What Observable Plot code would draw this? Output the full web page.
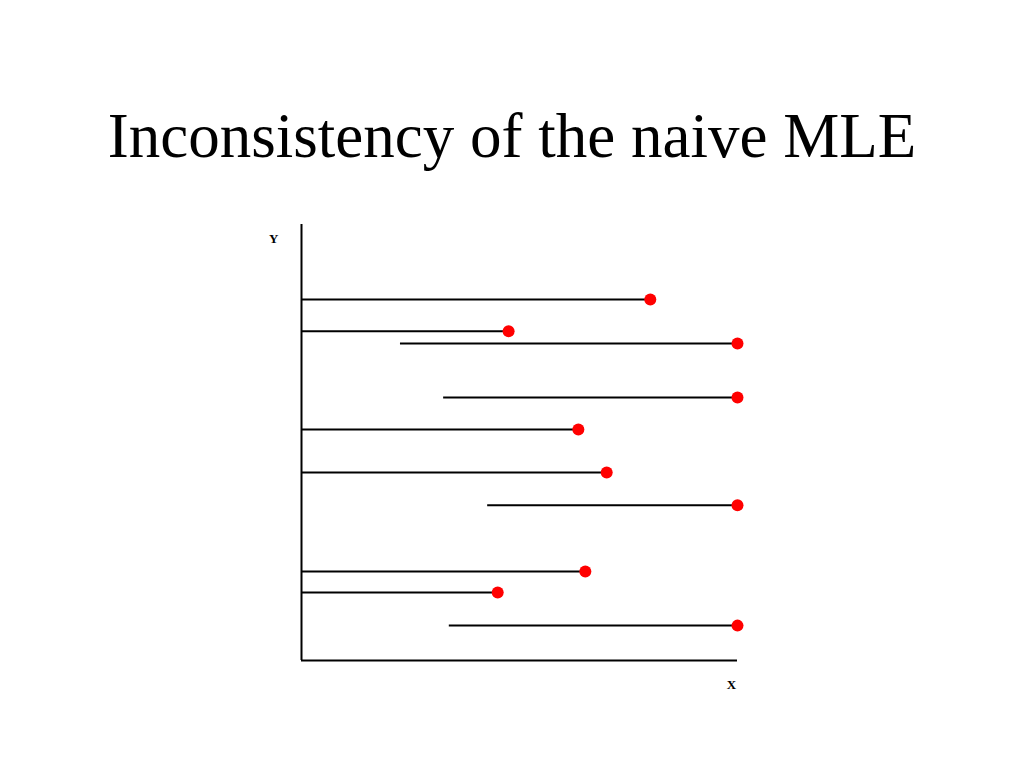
<!DOCTYPE html>
<html>
<head>
<meta charset="utf-8">
<script src="https://cdn.jsdelivr.net/npm/d3@7"></script>
<script src="https://cdn.jsdelivr.net/npm/@observablehq/plot@0.6"></script>
<style>
  html, body { margin: 0; padding: 0; background: #fff; }
  #wrap { position: relative; width: 1024px; height: 768px; overflow: hidden; }
  #title { position: absolute; left: 0; top: 96px; width: 1024px; text-align: center; z-index: 2;
    font-family: "Liberation Serif", "Times New Roman", serif; font-size: 63px; line-height: 80px; color: #000; }
  #chart { position: absolute; left: 0; top: 0; z-index: 1; }
</style>
</head>
<body>
<div id="wrap">
  <div id="chart"></div>
  <div id="title">Inconsistency of the naive MLE</div>
</div>
<script>
// Data (arbitrary units 0–100)
const segStart = [0, 0, 22.7, 32.6, 0, 0, 42.7, 0, 0, 33.9];
const segEnd   = [80.0, 47.5, 100, 100, 63.5, 70.0, 100, 65.1, 45.0, 100];
const segY     = [82.8, 75.5, 72.7, 60.3, 53.0, 43.1, 35.6, 20.4, 15.6, 8.0];
const axisLabels = ["Y", "X"];

const segs = segY.map((y, i) => ({y, x1: segStart[i], x2: segEnd[i]}));

const chart = Plot.plot({
  width: 1024,
  height: 768,
  marginLeft: 301,
  marginRight: 287,
  marginTop: 224,
  marginBottom: 108,
  x: {domain: [0, 100], axis: null},
  y: {domain: [0, 100], axis: null},
  style: {background: "transparent"},
  marks: [
    Plot.ruleX([0], {y1: 0, y2: 100, stroke: "black", strokeWidth: 2}),
    Plot.ruleY([0], {x1: 0, x2: 100, stroke: "black", strokeWidth: 2}),
    Plot.ruleY(segs, {y: "y", x1: "x1", x2: "x2", stroke: "black", strokeWidth: 2}),
    Plot.dot(segs, {x: "x2", y: "y", r: 6, fill: "#ff0000", stroke: "none"}),
    Plot.text([axisLabels[0]], {x: -6.4, y: 96.6, text: d => d, fontFamily: "Liberation Serif, serif", fontWeight: "bold", fontSize: 13, fill: "black"}),
    Plot.text([axisLabels[1]], {x: 98.6, y: -5.5, text: d => d, fontFamily: "Liberation Serif, serif", fontWeight: "bold", fontSize: 13, fill: "black"})
  ]
});
document.getElementById("chart").appendChild(chart);
</script>
</body>
</html>
